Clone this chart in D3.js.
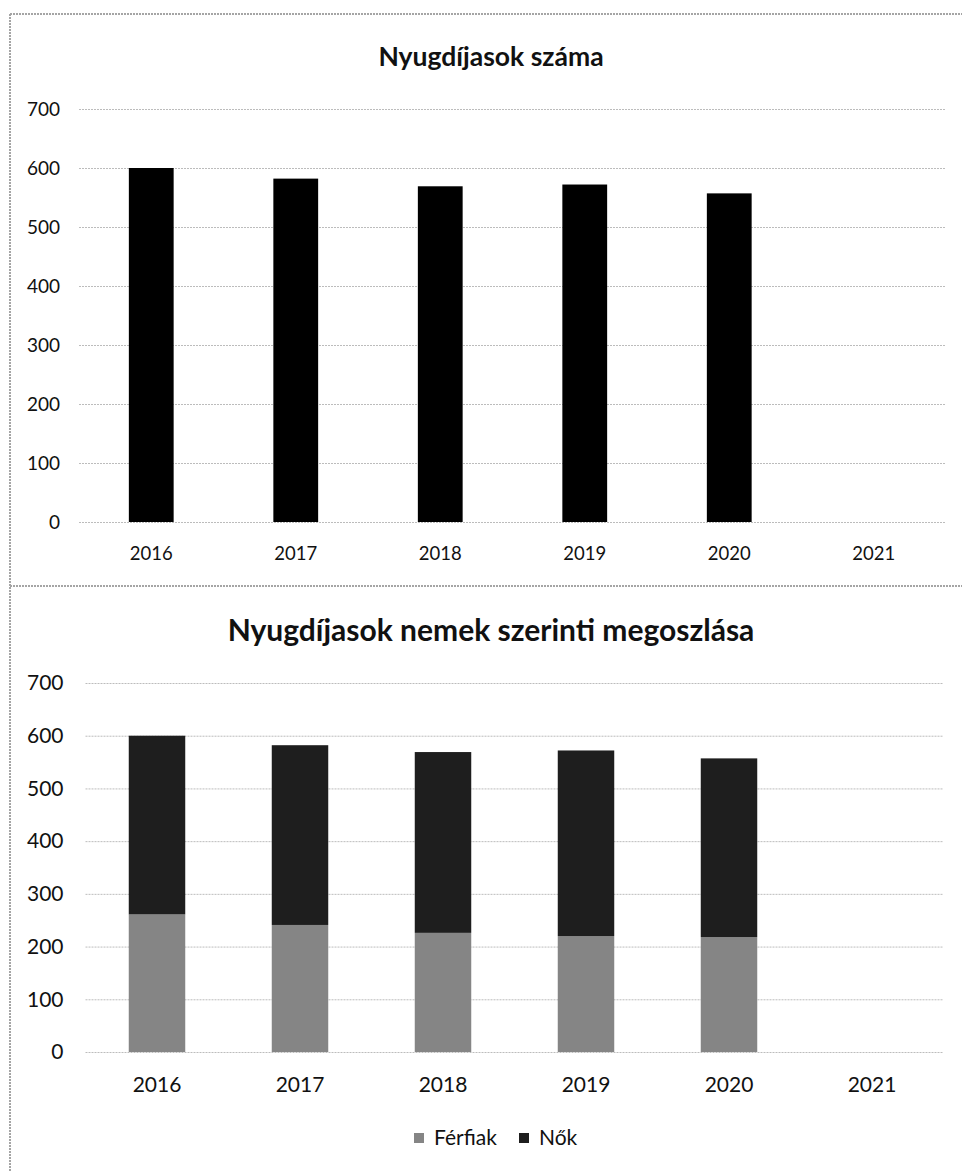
<!DOCTYPE html>
<html lang="hu">

<head>
    <meta charset="utf-8" />
    <title>Nyugdíjasok</title>
    <script src="https://cdn.jsdelivr.net/npm/d3@7"></script>
    <style>
        body { margin: 0; background: #fff; }
        text { font-family: Lato, "Open Sans", sans-serif; fill: #111; }
    </style>
</head>

<body>
    <div id='chart'></div>
</body>
<script>

    // adatok
    let years = ['2016', '2017', '2018', '2019', '2020', '2021'];
    let osszes = [600, 582, 569, 572, 557, null];
    let ferfiak = [261, 241, 226, 220, 218, null];
    let nok = [339, 341, 343, 352, 339, null];
    let yTicks = [0, 100, 200, 300, 400, 500, 600, 700];
    let legendLabels = ['Férfiak', 'Nők'];

    let colors = { total: '#000', ferfi: '#858585', no: '#1e1e1e' };
    let gridColor = '#bcbcbc';

    let svg = d3.select('#chart')
        .append('svg')
        .attr('width', 962)
        .attr('height', 1171);

    // keret (szkennelt oldal szürke vonalai)
    let frame = svg.append('g')
        .attr('stroke', '#a5a5a5')
        .attr('stroke-width', 2)
        .attr('stroke-dasharray', '2,1');
    frame.append('line').attr('x1', 10).attr('x2', 962).attr('y1', 14).attr('y2', 14);
    frame.append('line').attr('x1', 10).attr('x2', 962).attr('y1', 586).attr('y2', 586);
    frame.append('line').attr('x1', 10).attr('x2', 10).attr('y1', 14).attr('y2', 1171);

    // ---------- felső diagram ----------
    let box1 = { left: 79, right: 946, y0: 522, y700: 109 };

    let x1 = d3.scaleBand()
        .domain(years)
        .range([box1.left, box1.right])
        .paddingInner(0.69)
        .paddingOuter(0.345);

    let y1 = d3.scaleLinear()
        .domain([0, 700])
        .range([box1.y0, box1.y700]);

    let g1 = svg.append('g');

    g1.append('g')
        .attr('class', 'y-axis')
        .attr('transform', 'translate(' + box1.left + ',0)')
        .call(d3.axisLeft(y1).tickValues(yTicks).tickSize(-(box1.right - box1.left)).tickPadding(19))
        .call(g => g.select('.domain').remove())
        .call(g => g.selectAll('.tick line').attr('stroke', gridColor).attr('stroke-dasharray', '2,1'))
        .call(g => g.selectAll('.tick text').style('font-size', '19px').attr('fill', '#111'));

    g1.append('g')
        .attr('class', 'x-axis')
        .attr('transform', 'translate(0,' + box1.y0 + ')')
        .call(d3.axisBottom(x1).tickSize(0).tickPadding(25))
        .call(g => g.select('.domain').remove())
        .call(g => g.selectAll('.tick text').style('font-size', '18.5px').attr('fill', '#111'));

    g1.selectAll('.bar')
        .data(years.map((d, i) => ({ year: d, v: osszes[i] })).filter(d => d.v != null))
        .enter().append('rect')
        .attr('class', 'bar')
        .attr('x', d => x1(d.year))
        .attr('width', x1.bandwidth())
        .attr('y', d => y1(d.v))
        .attr('height', d => y1(0) - y1(d.v))
        .attr('fill', colors.total);

    g1.append('text')
        .attr('x', 491)
        .attr('y', 66)
        .attr('text-anchor', 'middle')
        .style('font-size', '26.5px')
        .style('font-weight', 'bold')
        .text('Nyugdíjasok száma');

    // ---------- alsó diagram ----------
    let box2 = { left: 85.5, right: 943.5, y0: 1052, y700: 683 };

    let x2 = d3.scaleBand()
        .domain(years)
        .range([box2.left, box2.right])
        .paddingInner(0.605)
        .paddingOuter(0.3025);

    let y2 = d3.scaleLinear()
        .domain([0, 700])
        .range([box2.y0, box2.y700]);

    let g2 = svg.append('g');

    g2.append('g')
        .attr('class', 'y-axis')
        .attr('transform', 'translate(' + box2.left + ',0)')
        .call(d3.axisLeft(y2).tickValues(yTicks).tickSize(-(box2.right - box2.left)).tickPadding(22))
        .call(g => g.select('.domain').remove())
        .call(g => g.selectAll('.tick line').attr('stroke', gridColor).attr('stroke-dasharray', '2,1'))
        .call(g => g.selectAll('.tick text').style('font-size', '21px').attr('fill', '#111'));

    g2.append('g')
        .attr('class', 'x-axis')
        .attr('transform', 'translate(0,' + box2.y0 + ')')
        .call(d3.axisBottom(x2).tickSize(0).tickPadding(25))
        .call(g => g.select('.domain').remove())
        .call(g => g.selectAll('.tick text').style('font-size', '21px').attr('fill', '#111'));

    let stackData = years.map((d, i) => ({ year: d, ferfi: ferfiak[i], no: nok[i] }))
        .filter(d => d.ferfi != null);
    let series = d3.stack().keys(['ferfi', 'no'])(stackData);

    g2.selectAll('.serie')
        .data(series)
        .enter().append('g')
        .attr('class', 'serie')
        .attr('fill', d => colors[d.key])
        .selectAll('rect')
        .data(d => d)
        .enter().append('rect')
        .attr('x', d => x2(d.data.year))
        .attr('width', x2.bandwidth())
        .attr('y', d => y2(d[1]))
        .attr('height', d => y2(d[0]) - y2(d[1]));

    g2.append('text')
        .attr('x', 491)
        .attr('y', 641)
        .attr('text-anchor', 'middle')
        .style('font-size', '30px')
        .style('font-weight', 'bold')
        .text('Nyugdíjasok nemek szerinti megoszlása');

    // jelmagyarázat
    let legend = svg.append('g').attr('transform', 'translate(414,1145)');
    let lx = [0, 105];
    legendLabels.forEach((l, i) => {
        let item = legend.append('g').attr('transform', 'translate(' + lx[i] + ',0)');
        item.append('rect')
            .attr('x', 0).attr('y', -12)
            .attr('width', 10).attr('height', 10)
            .attr('fill', i == 0 ? colors.ferfi : colors.no);
        item.append('text')
            .attr('x', 20)
            .attr('y', 0)
            .style('font-size', '21px')
            .text(l);
    });

</script>

</html>
